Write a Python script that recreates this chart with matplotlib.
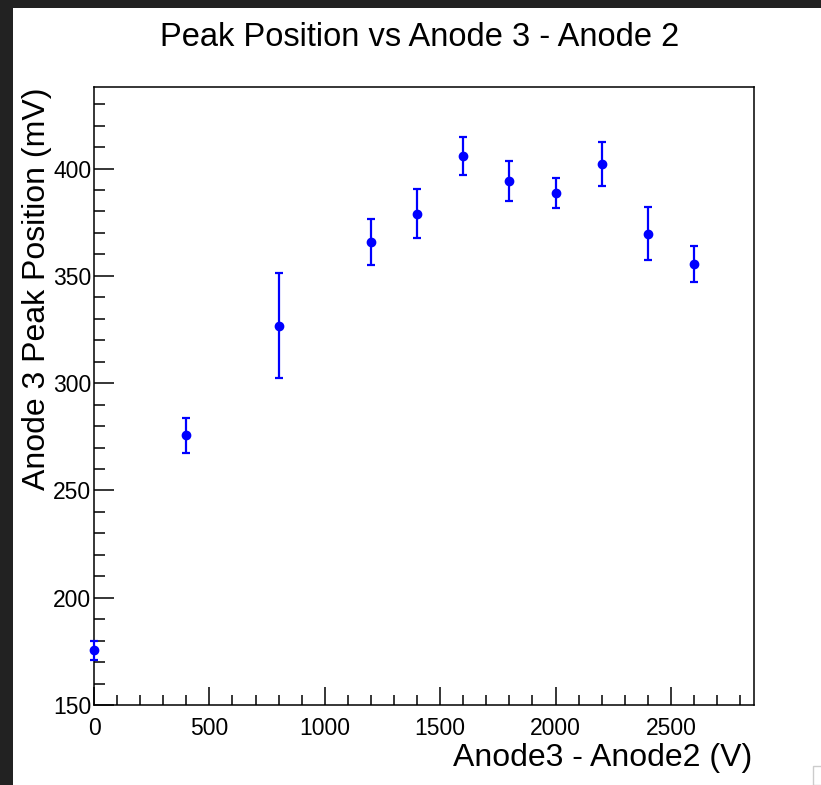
import numpy as np
import matplotlib
matplotlib.use("Agg")
import matplotlib.pyplot as plt
from matplotlib.patches import Rectangle
from matplotlib.ticker import MultipleLocator

plt.rcParams['font.family'] = ['Liberation Sans', 'DejaVu Sans']

# voltage difference between anode 3 and anode 2 (V)
dv = [0, 400, 800, 1200, 1400, 1600, 1800, 2000, 2200, 2400, 2600]
# fitted peak position on anode 3 (mV) and its error
peak = [175.5, 275.6, 326.8, 365.9, 378.9, 405.9, 394.3, 388.8, 402.2, 369.6, 355.6]
peak_err = [4.5, 8.2, 24.6, 10.7, 11.5, 8.8, 9.2, 7.0, 10.3, 12.3, 8.5]

W, H = 821, 785
fig = plt.figure(figsize=(W / 100, H / 100), dpi=100)

# dark edge of the window around the canvas
fig.patches.append(Rectangle((0, 0), 13 / W, 1, transform=fig.transFigure,
                             facecolor='#222222', edgecolor='none', zorder=0))
fig.patches.append(Rectangle((0, 1 - 8 / H), 1, 8 / H, transform=fig.transFigure,
                             facecolor='#222222', edgecolor='none', zorder=0))
fig.patches.append(Rectangle((813 / W, 0), 10 / W, 19 / H, transform=fig.transFigure,
                             facecolor='white', edgecolor='#cccccc', lw=1, zorder=0))

ax = fig.add_axes([94 / W, 1 - 705 / H, 660 / W, 618 / H])

ax.errorbar(dv, peak, yerr=peak_err, fmt='o', color='#0000ff', ecolor='#0000ff',
            markersize=6, elinewidth=1.6, capsize=3, capthick=1.6, clip_on=False, zorder=3)

ax.set_xlim(0, 2860)
ax.set_ylim(150, 438)

ax.xaxis.set_major_locator(MultipleLocator(500))
ax.xaxis.set_minor_locator(MultipleLocator(100))
ax.yaxis.set_major_locator(MultipleLocator(50))
ax.yaxis.set_minor_locator(MultipleLocator(10))

ax.tick_params(axis='both', which='both', direction='in', top=False, right=False,
               color='black', width=1.1, labelsize=16.5)
ax.tick_params(axis='y', which='major', length=14.5, pad=2)
ax.tick_params(axis='y', which='minor', length=8)
ax.tick_params(axis='x', which='major', length=13, pad=8.5)
ax.tick_params(axis='x', which='minor', length=7.2)

for s in ax.spines.values():
    s.set_linewidth(1.1)
    s.set_color('black')

fig.text(420 / W, 1 - 46 / H, "Peak Position vs Anode 3 - Anode 2",
         ha='center', va='baseline', fontsize=23.5)
fig.text(752 / W, 1 - 766 / H, "Anode3 - Anode2 (V)",
         ha='right', va='baseline', fontsize=23)
fig.text(37 / W, 1 - 87 / H, "Anode 3 Peak Position (mV)",
         ha='center', va='top', rotation=90, fontsize=23)

fig.savefig("out.png", dpi=100, facecolor='white')
